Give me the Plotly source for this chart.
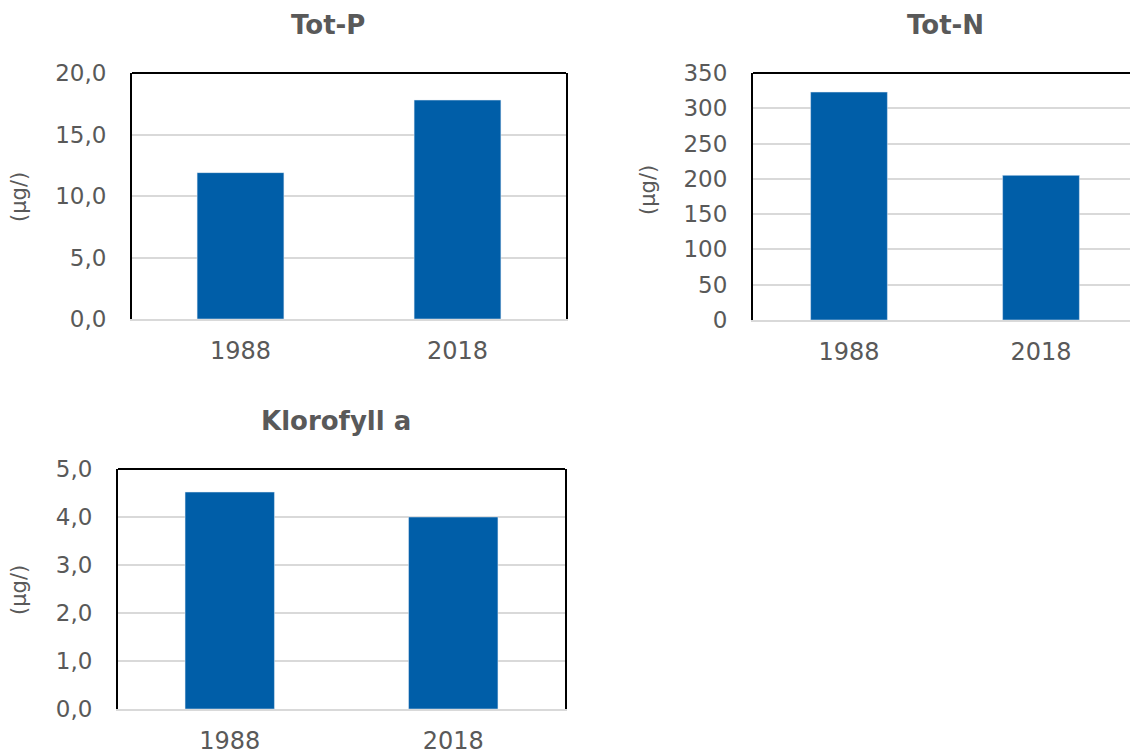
import plotly.graph_objects as go

years = ["1988", "2018"]
tot_p = [11.9, 17.8]
tot_n = [323, 205]
klorofyll = [4.52, 4.0]

titles = ["Tot-P", "Tot-N", "Klorofyll a"]
unit_label = "(µg/)"

OFF = 8  # page body margin
W, H = 1138 - OFF, 751 - OFF
BAR = "#005EA8"
TXT = "#595959"
GRID = "#D9D9D9"
FONT = "DejaVu Sans"

def px(x):
    return (x - OFF) / W

def py(y):
    return 1 - (y - OFF) / H

fig = go.Figure()
fig.add_trace(go.Bar(x=years, y=tot_p, marker_color=BAR, xaxis="x", yaxis="y"))
fig.add_trace(go.Bar(x=years, y=tot_n, marker_color=BAR, xaxis="x2", yaxis="y2"))
fig.add_trace(go.Bar(x=years, y=klorofyll, marker_color=BAR, xaxis="x3", yaxis="y3"))

panels = [
    # (x_left, x_right, y_top, y_bottom, yrange, dtick, fmt)
    (132, 566, 73, 319, [0, 20], 5, ".1f"),
    (753, 1137, 73, 320, [0, 350], 50, "d"),
    (118, 565, 469, 709, [0, 5], 1, ".1f"),
]

xfont = dict(family=FONT, size=24, color=TXT)
yfont = dict(family=FONT, size=23, color=TXT)
layout = dict(
    width=W, height=H, margin=dict(l=0, r=0, t=0, b=0, autoexpand=False),
    paper_bgcolor="white", plot_bgcolor="white",
    showlegend=False, bargap=0.6, separators=", ",
    font=dict(family=FONT, color=TXT),
)
shapes = []
for i, (xl, xr, yt, yb, yr, dt, fmt) in enumerate(panels):
    sx = "" if i == 0 else str(i + 1)
    layout["xaxis" + sx] = dict(
        domain=[px(xl), px(xr)], anchor="y" + sx, automargin=False,
        showline=True, linecolor=GRID, linewidth=2,
        ticks="outside", ticklen=9, tickcolor="rgba(0,0,0,0)",
        tickfont=xfont, showgrid=False, fixedrange=True,
    )
    layout["yaxis" + sx] = dict(
        domain=[py(yb), py(yt)], anchor="x" + sx, automargin=False,
        range=yr, dtick=dt, tickformat=fmt,
        showline=True, linecolor="black", linewidth=2, mirror=True,
        showgrid=True, gridcolor=GRID, gridwidth=2,
        zeroline=False,
        ticks="outside", ticklen=19, tickcolor="rgba(0,0,0,0)",
        tickfont=yfont, fixedrange=True,
    )
    shapes.append(dict(type="line", xref="x%s domain" % sx, yref="y%s domain" % sx,
                       x0=0, x1=1, y0=1, y1=1, line=dict(color="black", width=2)))
layout["shapes"] = shapes

annotations = [
    dict(text="<b>" + titles[0] + "</b>", x=px(328), y=py(25)),
    dict(text="<b>" + titles[1] + "</b>", x=px(945), y=py(25)),
    dict(text="<b>" + titles[2] + "</b>", x=px(336), y=py(421)),
]
for a in annotations:
    a.update(xref="paper", yref="paper", showarrow=False, xanchor="center", yanchor="middle",
             font=dict(family=FONT, size=26, color=TXT))
for (x, y) in [(19, 197), (648, 190), (19, 590)]:
    annotations.append(dict(text=unit_label, x=px(x), y=py(y), xref="paper", yref="paper",
                            showarrow=False, textangle=-90, xanchor="center", yanchor="middle",
                            font=dict(family=FONT, size=21, color=TXT)))
layout["annotations"] = annotations

fig.update_layout(**layout)
fig.write_html("out.html")
